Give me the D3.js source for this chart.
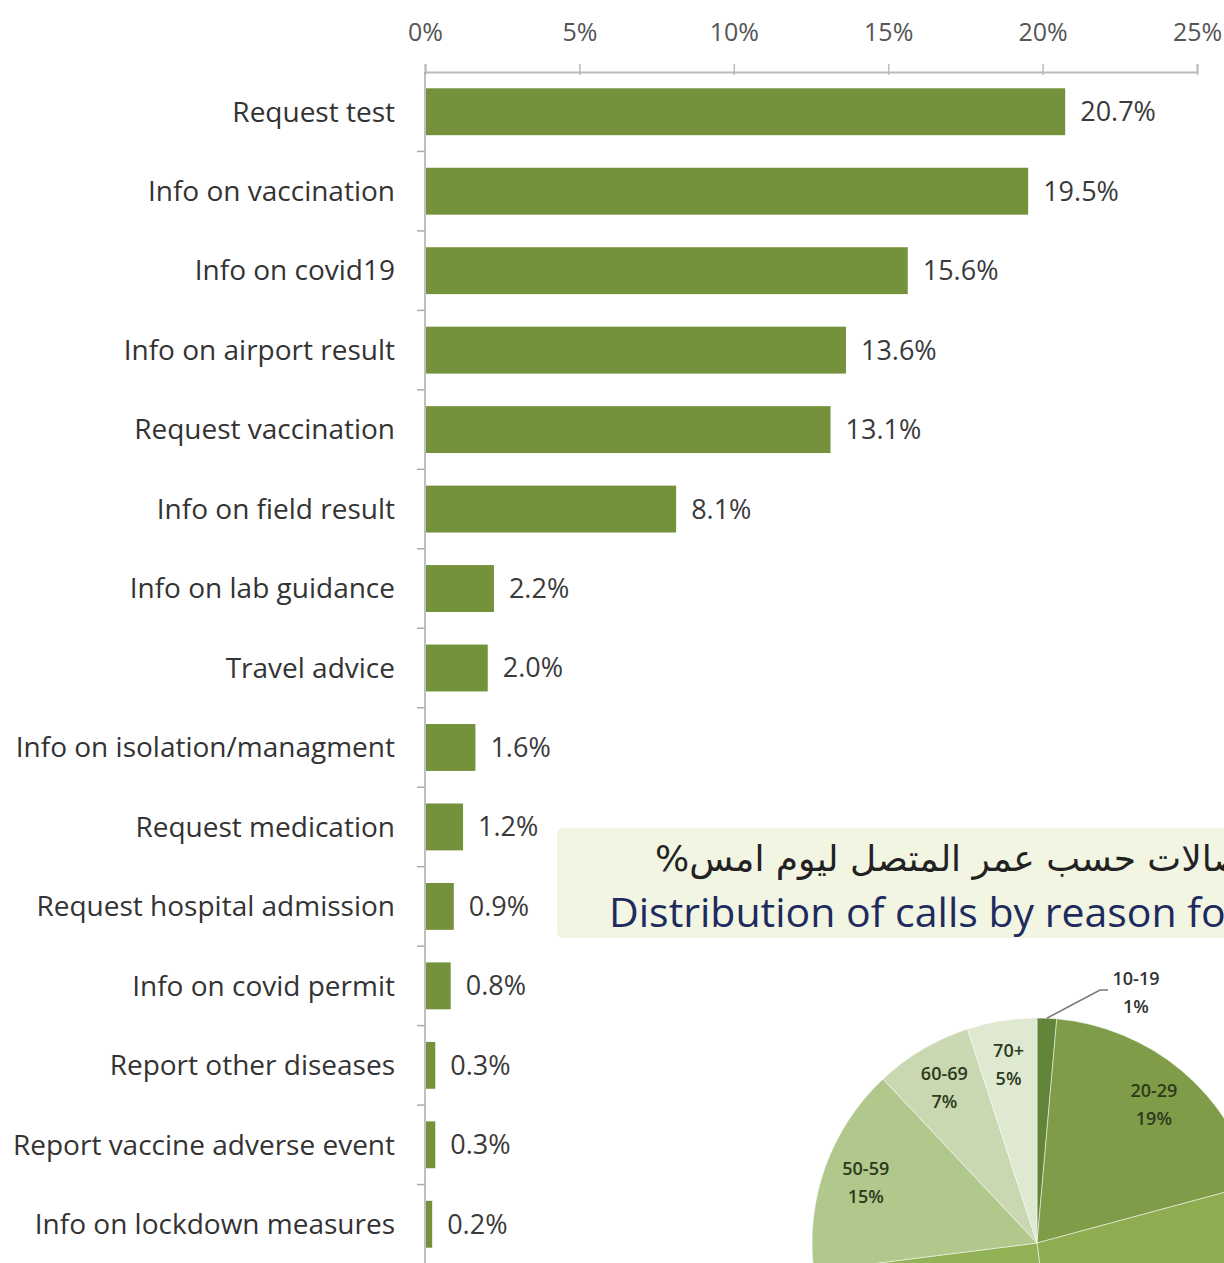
<!DOCTYPE html>
<html>
<head>
<meta charset="utf-8">
<script src="https://cdn.jsdelivr.net/npm/d3@7"></script>
<style>
  body { margin: 0; background: #fff; }
  svg { display: block; }
</style>
</head>
<body>
<svg id="plot"></svg>
<script>
// reasons for calls (bar chart)
var reasons = ['Request test', 'Info on vaccination', 'Info on covid19', 'Info on airport result',
  'Request vaccination', 'Info on field result', 'Info on lab guidance', 'Travel advice',
  'Info on isolation/managment', 'Request medication', 'Request hospital admission',
  'Info on covid permit', 'Report other diseases', 'Report vaccine adverse event',
  'Info on lockdown measures'];
var shares = [20.7, 19.5, 15.6, 13.6, 13.1, 8.1, 2.2, 2.0, 1.6, 1.2, 0.9, 0.8, 0.3, 0.3, 0.2];
var xTicks = [0, 5, 10, 15, 20, 25];

// caller age (pie, partly cut off)
var ageGroups = ['10-19', '20-29', '30-39', '40-49', '50-59', '60-69', '70+'];
var ageShares = [1.4, 19.4, 27.2, 25, 15, 7, 5];
var ageColors = ['#62853a', '#7f9d48', '#8dad50', '#92b256', '#b1c88c', '#c9d8b0', '#dfe8d0'];

var titleAr = 'الاتصالات حسب عمر المتصل ليوم امس%';
var titleEn = 'Distribution of calls by reason for';

var W = 1224, H = 1263;
var x0 = 425, x1 = 1197, yTop = 72, yBot = 1264;
var font = '"Open Sans", Lato, sans-serif';

var svg = d3.select('#plot').attr('width', W).attr('height', H);

var xs = d3.scaleLinear().domain([0, 25]).range([x0, x1]);
var ys = d3.scaleBand().domain(reasons).range([yTop, yBot]).paddingInner(0.41).paddingOuter(0.205);

// top axis
var xAxis = svg.append('g')
  .attr('transform', 'translate(0,' + yTop + ')')
  .call(d3.axisTop(xs).tickValues(xTicks).tickSize(8).tickPadding(23).tickFormat(function(d) { return d + '%'; }));
xAxis.select('.domain').attr('stroke', '#bbb').attr('stroke-width', 2);
xAxis.selectAll('.tick line').attr('stroke', '#bbb').attr('stroke-width', 1.5).attr('y2', -8).attr('y1', 3);
xAxis.selectAll('.tick text')
  .style('font', '25px ' + font)
  .attr('fill', '#555');

// left axis line + category boundary ticks
svg.append('line')
  .attr('x1', x0).attr('x2', x0)
  .attr('y1', yTop).attr('y2', H)
  .attr('stroke', '#aaa').attr('stroke-width', 1.5);

svg.append('g').selectAll('line')
  .data(reasons.slice(1))
  .enter()
  .append('line')
  .attr('x1', x0 - 8).attr('x2', x0)
  .attr('y1', function(d) { return ys(d) - ys.step() * ys.paddingInner() / 2; })
  .attr('y2', function(d) { return ys(d) - ys.step() * ys.paddingInner() / 2; })
  .attr('stroke', '#aaa').attr('stroke-width', 1.5);

// bars
var rows = reasons.map(function(r, i) { return { reason: r, v: shares[i] }; });

svg.append('g').selectAll('rect')
  .data(rows)
  .enter()
  .append('rect')
  .attr('x', x0 + 1)
  .attr('y', function(d) { return ys(d.reason); })
  .attr('width', function(d) { return xs(d.v) - x0; })
  .attr('height', ys.bandwidth())
  .attr('fill', '#74913b');

// category labels
svg.append('g').selectAll('text')
  .data(rows)
  .enter()
  .append('text')
  .attr('x', 395)
  .attr('y', function(d) { return ys(d.reason) + ys.bandwidth() / 2; })
  .attr('dy', '0.35em')
  .attr('text-anchor', 'end')
  .attr('fill', '#333')
  .style('font', '28px ' + font)
  .text(function(d) { return d.reason; });

// value labels
svg.append('g').selectAll('text')
  .data(rows)
  .enter()
  .append('text')
  .attr('x', function(d) { return xs(d.v) + 16; })
  .attr('y', function(d) { return ys(d.reason) + ys.bandwidth() / 2; })
  .attr('dy', '0.35em')
  .attr('fill', '#3a3a3a')
  .style('font', '27px ' + font)
  .text(function(d) { return d.v.toFixed(1) + '%'; });

// banner of the next chart
svg.append('rect')
  .attr('x', 557).attr('y', 828)
  .attr('width', W - 557 + 10).attr('height', 110)
  .attr('rx', 6)
  .attr('fill', '#f3f5e3');

svg.append('text')
  .attr('x', 655).attr('y', 871)
  .attr('direction', 'rtl')
  .attr('text-anchor', 'end')
  .attr('fill', '#222')
  .style('font', '36px "DejaVu Sans", sans-serif')
  .text(titleAr);

svg.append('text')
  .attr('x', 609).attr('y', 927)
  .attr('fill', '#1d2b5e')
  .style('font', '41px ' + font)
  .text(titleEn);

// pie
var cx = 1037, cy = 1243, r = 225;
var pie = d3.pie().sort(null).value(function(d) { return d; });
var arcs = pie(ageShares);
var arc = d3.arc().innerRadius(0).outerRadius(r);
var labelArc = d3.arc().innerRadius(182).outerRadius(182);

var pg = svg.append('g').attr('transform', 'translate(' + cx + ',' + cy + ')');

pg.selectAll('path')
  .data(arcs)
  .enter()
  .append('path')
  .attr('d', arc)
  .attr('fill', function(d, i) { return ageColors[i]; })
  .attr('stroke', '#fff')
  .attr('stroke-width', 0.5);

var inside = arcs.filter(function(d, i) { return i == 1 || i >= 4; });
var pl = pg.selectAll('g.lab')
  .data(inside)
  .enter()
  .append('g')
  .attr('class', 'lab')
  .attr('transform', function(d) { return 'translate(' + labelArc.centroid(d) + ')'; });

pl.append('text')
  .attr('y', -6)
  .attr('text-anchor', 'middle')
  .attr('fill', '#2c3a1c')
  .style('font', '600 18px ' + font)
  .text(function(d) { return ageGroups[d.index]; });
pl.append('text')
  .attr('y', 22)
  .attr('text-anchor', 'middle')
  .attr('fill', '#2c3a1c')
  .style('font', '600 18px ' + font)
  .text(function(d) { return Math.round(d.data) + '%'; });

// 10-19 label outside with leader line
var small = arcs[0];
var edge = d3.arc().innerRadius(r).outerRadius(r).centroid(small);
svg.append('polyline')
  .attr('points', [[cx + edge[0], cy + edge[1]], [1100, 990], [1108, 990]].join(' '))
  .attr('fill', 'none')
  .attr('stroke', '#777')
  .attr('stroke-width', 1.5);
svg.append('text')
  .attr('x', 1136).attr('y', 985)
  .attr('text-anchor', 'middle')
  .attr('fill', '#333')
  .style('font', '600 18px ' + font)
  .text(ageGroups[0]);
svg.append('text')
  .attr('x', 1136).attr('y', 1013)
  .attr('text-anchor', 'middle')
  .attr('fill', '#333')
  .style('font', '600 18px ' + font)
  .text(Math.round(ageShares[0]) + '%');
</script>
</body>
</html>
